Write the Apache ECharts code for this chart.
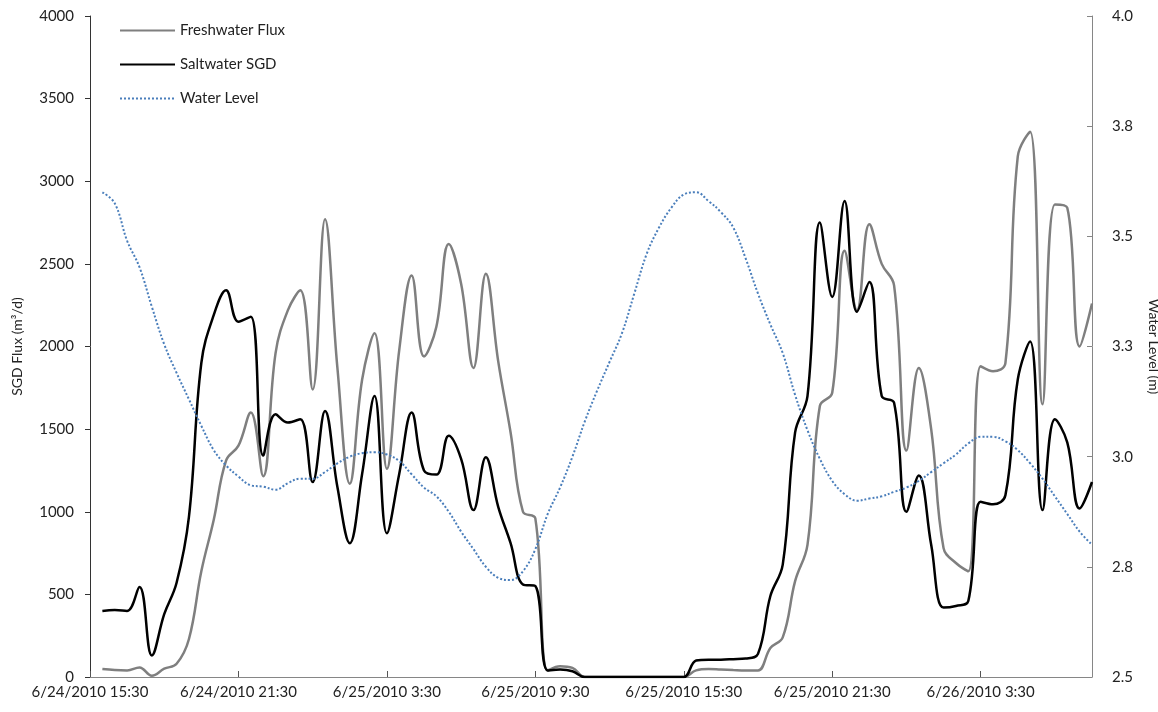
<!DOCTYPE html>
<html>
<head>
<meta charset="utf-8">
<title>SGD Flux</title>
<script src="https://cdn.jsdelivr.net/npm/echarts@6/dist/echarts.min.js"></script>
<style>
  html, body { margin: 0; padding: 0; background: #fff; }
  #chart { width: 1158px; height: 712px; }
</style>
</head>
<body>
<div id="chart"></div>
<script>
// half-hour readings, first slot (15:30) has no reading
const startTime = new Date(2010, 5, 24, 15, 30);
const stepMinutes = 30;
const pointCount = 82;

const freshwater = [
  null, 48, 42, 40, 58, 8, 50, 80, 230, 640, 950, 1310, 1400, 1600, 1215,
  1960, 2220, 2340, 1740, 2770, 1870, 1170, 1800, 2080, 1260, 1980, 2430, 1940,
  2120, 2620, 2380, 1870, 2440, 1910, 1480, 1000, 960, 40, 65, 55, 0,
  0, 0, 0, 0, 0, 0, 0, 0, 40, 48, 45, 42, 40, 40,
  175, 240, 580, 800, 1640, 1720, 2580, 2220, 2740, 2500, 2370, 1370, 1870,
  1500, 780, 690, 640, 1880, 1850, 1900, 3150, 3300, 1650, 2860, 2840, 2000, 2260
];

const saltwater = [
  null, 400, 405, 400, 545, 130, 380, 570, 970, 1900, 2190, 2340, 2150, 2180, 1340,
  1590, 1540, 1560, 1180, 1610, 1150, 810, 1230, 1700, 870, 1230, 1600, 1250,
  1225, 1460, 1320, 1010, 1330, 1030, 810, 560, 550, 40, 45, 35, 0,
  0, 0, 0, 0, 0, 0, 0, 0, 100, 105, 105, 108, 112, 140,
  490, 680, 1480, 1700, 2750, 2300, 2880, 2210, 2390, 1700, 1660, 1000, 1220,
  800, 420, 430, 460, 1060, 1045, 1100, 1800, 2030, 1010, 1560, 1420, 1020, 1180
];

const waterLevel = [
  null, 3.60, 3.575, 3.49, 3.43, 3.34, 3.255, 3.19, 3.13, 3.07, 3.015, 2.98, 2.955, 2.935, 2.932,
  2.925, 2.94, 2.95, 2.95, 2.965, 2.985, 3.0, 3.008, 3.01, 3.005, 2.99, 2.96, 2.93,
  2.91, 2.875, 2.83, 2.79, 2.75, 2.725, 2.72, 2.74, 2.79, 2.87, 2.93, 3.0, 3.08,
  3.15, 3.215, 3.28, 3.37, 3.46, 3.52, 3.565, 3.595, 3.60, 3.58, 3.555, 3.52, 3.45, 3.37,
  3.30, 3.235, 3.14, 3.06, 2.995, 2.945, 2.915, 2.90, 2.905, 2.91, 2.92, 2.93, 2.945,
  2.965, 2.985, 3.005, 3.03, 3.045, 3.045, 3.035, 3.015, 2.985, 2.95, 2.91, 2.87, 2.83, 2.80
];

function fmtTime(d) {
  const mm = d.getMinutes() < 10 ? "0" + d.getMinutes() : d.getMinutes();
  return (d.getMonth() + 1) + "/" + d.getDate() + "/" + d.getFullYear() + " " + d.getHours() + ":" + mm;
}

const times = [];
for (let i = 0; i < pointCount; i++) {
  times.push(fmtTime(new Date(startTime.getTime() + i * stepMinutes * 60000)));
}

const font = "Lato";
const textColor = "#222";

const chart = echarts.init(document.getElementById("chart"));

chart.setOption({
  animation: false,
  textStyle: { fontFamily: font },
  legend: {
    orient: "vertical",
    left: 114,
    top: 18,
    itemWidth: 55,
    itemHeight: 14,
    itemGap: 19,
    itemStyle: { opacity: 0 },
    textStyle: { fontFamily: font, fontSize: 15, color: textColor },
    data: ["Freshwater Flux", "Saltwater SGD", "Water Level"],
  },
  grid: {
    left: 90,
    right: 66,
    top: 16,
    bottom: 35,
    containLabel: false,
    outerBoundsMode: "none",
  },
  xAxis: {
    type: "category",
    data: times,
    boundaryGap: false,
    axisLine: { lineStyle: { color: "#868686", width: 1 } },
    axisTick: { inside: true, length: 6, interval: 11, lineStyle: { color: "#555" } },
    axisLabel: {
      interval: 11,
      margin: 8,
      fontFamily: font,
      fontSize: 15,
      color: textColor,
    },
    splitLine: { show: false },
  },
  yAxis: [
    {
      type: "value",
      min: 0,
      max: 4000,
      interval: 500,
      name: "SGD Flux (m³/d)",
      nameLocation: "middle",
      nameGap: 66,
      nameTextStyle: { fontFamily: font, fontSize: 14, color: textColor },
      axisLine: { show: true, lineStyle: { color: "#333" } },
      axisTick: { show: true, length: 5, lineStyle: { color: "#333" } },
      axisLabel: {
        margin: 16,
        fontFamily: font,
        fontSize: 15,
        color: textColor,
        formatter: (v) => String(v),
      },
      splitLine: { show: false },
    },
    {
      type: "value",
      min: 2.5,
      max: 4.0,
      interval: 0.25,
      position: "right",
      name: "Water Level (m)",
      nameLocation: "middle",
      nameRotate: -90,
      nameGap: 55,
      nameTextStyle: { fontFamily: font, fontSize: 14, color: textColor },
      axisLine: { show: true, lineStyle: { color: "#868686" } },
      axisTick: { show: true, inside: true, length: 5, lineStyle: { color: "#868686" } },
      axisLabel: {
        margin: 20,
        fontFamily: font,
        fontSize: 15,
        color: textColor,
        formatter: (v) => v.toFixed(1),
      },
      splitLine: { show: false },
    },
  ],
  series: [
    {
      name: "Freshwater Flux",
      type: "line",
      data: freshwater,
      yAxisIndex: 0,
      smooth: 0.4,
      symbol: "none",
      color: "#7f7f7f",
      lineStyle: { color: "#7f7f7f", width: 2.5 },
    },
    {
      name: "Saltwater SGD",
      type: "line",
      data: saltwater,
      yAxisIndex: 0,
      smooth: 0.4,
      symbol: "none",
      color: "#000",
      lineStyle: { color: "#000", width: 2.5 },
    },
    {
      name: "Water Level",
      type: "line",
      data: waterLevel,
      yAxisIndex: 1,
      smooth: 0.4,
      symbol: "none",
      color: "#4a7ebb",
      lineStyle: { color: "#4a7ebb", width: 2, type: [2, 2] },
    },
  ],
});
</script>
</body>
</html>
